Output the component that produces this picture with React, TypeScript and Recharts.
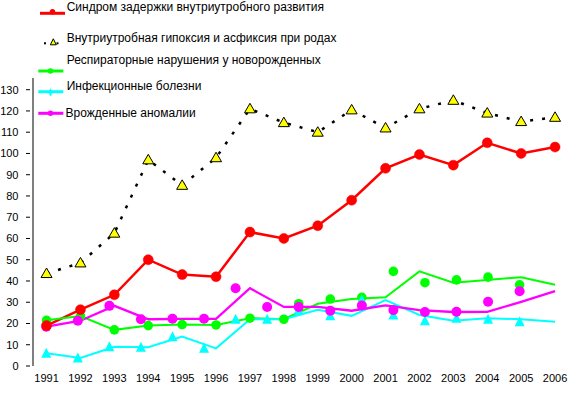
import React from 'react';
import { ComposedChart, Line, Scatter, XAxis, YAxis, Legend } from 'recharts';

const FONT = '"Liberation Sans", Arial, Helvetica, sans-serif';

// Categories
const years = [1991, 1992, 1993, 1994, 1995, 1996, 1997, 1998, 1999, 2000, 2001, 2002, 2003, 2004, 2005, 2006];
const yTicks = [0, 10, 20, 30, 40, 50, 60, 70, 80, 90, 100, 110, 120, 130];

// Series names (legend)
const seriesNames = [
  'Синдром задержки внутриутробного развития',
  'Внутриутробная гипоксия и асфиксия при родах',
  'Респираторные нарушения у новорожденных',
  'Инфекционные болезни',
  'Врожденные аномалии',
];

// Series values
const growthRetardation = [19, 26.5, 33.5, 50, 43, 42, 63, 60, 66, 78, 93, 99.5, 94.5, 105, 100, 103];
const hypoxia = [43.5, 48.5, 62.5, 97, 85, 98, 121, 114.5, 110, 120.5, 112, 121, 125, 119, 115, 117];
const respiratory = [21.5, 23.5, 17, 19, 19.5, 19.3, 22.5, 22, 29.3, 31.5, 32.3, 44.5, 39.2, 40.5, 41.8, 38.2];
const infections = [6, 3.8, 9, 8.8, 13.8, 8.3, 22, 22, 26.4, 23.6, 31, 24, 21.3, 22.5, 22, 20.8];
const anomalies = [18.5, 21.3, 28.3, 22, 22.2, 22.2, 36.6, 27.8, 27.8, 26, 28.5, 26.3, 25.4, 25.5, 30.2, 35.2];

// In the original the markers of some series are drawn on a compressed x spacing
const respiratoryAlignedYears = 8; // first 8 markers sit on their years

const rows = years.map((year, i) => ({
  year,
  growthRetardation: growthRetardation[i],
  hypoxia: hypoxia[i],
  respiratory: respiratory[i],
  infections: infections[i],
  anomalies: anomalies[i],
}));

const respiratoryEarly = years.slice(0, respiratoryAlignedYears).map((year, i) => ({ year, value: respiratory[i] }));
const respiratoryLate = years.slice(respiratoryAlignedYears).map((year, i) => ({ year, value: respiratory[i + respiratoryAlignedYears] }));
const infectionsMarkers = years.map((year, i) => ({ year, value: infections[i] }));
const anomaliesMarkers = years.map((year, i) => ({ year, value: anomalies[i] }));

const MAIN_DOMAIN: [number, number] = [1990.6, 2006.5];
const MARKER_DOMAIN: [number, number] = [1990.58, 2007.66];
const tickMarks = [MAIN_DOMAIN[0], ...years.map((y) => y + 0.5)];

const RED = '#ff0000';
const GREEN = '#00ff00';
const CYAN = '#00ffff';
const MAGENTA = '#ff00ff';
const YELLOW = '#ffff00';

const YTick = (props: any) => {
  const { x, y, payload } = props;
  return (
    <g>
      <line x1={x - 7} x2={x - 3} y1={y} y2={y} stroke="#000" strokeWidth={1} />
      <text x={x - 14.5} y={y} dy="0.35em" textAnchor="end" fontSize={11} fontFamily={FONT} fill="#000">
        {payload.value}
      </text>
    </g>
  );
};

const redDot = (props: any) => {
  const { cx, cy, index } = props;
  if (cx == null || cy == null) return <g key={`rd-${index}`} />;
  return <circle key={`rd-${index}`} cx={cx} cy={cy} r={5} fill={RED} stroke={RED} strokeWidth={0.5} />;
};

const yellowTriangle = (props: any) => {
  const { cx, cy, index } = props;
  if (cx == null || cy == null) return <g key={`yt-${index}`} />;
  return (
    <polygon
      key={`yt-${index}`}
      points={`${cx},${cy - 5.5} ${cx - 5.5},${cy + 4} ${cx + 5.5},${cy + 4}`}
      fill={YELLOW}
      stroke="#000"
      strokeWidth={1}
    />
  );
};

const cyanTriangle = (props: any) => {
  const { cx, cy } = props;
  return <polygon points={`${cx},${cy - 5.5} ${cx - 5},${cy + 4.5} ${cx + 5},${cy + 4.5}`} fill={CYAN} stroke="none" />;
};

const greenCircle = (props: any) => <circle cx={props.cx} cy={props.cy} r={4.8} fill={GREEN} />;
const magentaCircle = (props: any) => <circle cx={props.cx} cy={props.cy} r={5} fill={MAGENTA} />;

const legendTextY = [6.7, 38.3, 60, 86, 113.3];
const legendSymY = [13.3, 43.3, 71, 91.7, 113.3];

const LegendContent = () => (
  <svg width={340} height={125} style={{ display: 'block' }}>
    <line x1={40} x2={65} y1={legendSymY[0]} y2={legendSymY[0]} stroke={RED} strokeWidth={3} />
    <circle cx={52.5} cy={legendSymY[0] - 1.5} r={2.7} fill={RED} />
    <rect x={44} y={legendSymY[1] - 1} width={2} height={2} fill="#000" />
    <polygon
      points={`${53.3},${legendSymY[1] - 4.5} ${50.3},${legendSymY[1] + 1.5} ${56.3},${legendSymY[1] + 1.5}`}
      fill={YELLOW}
      stroke="#000"
      strokeWidth={1}
    />
    <rect x={56.5} y={legendSymY[1] - 1} width={2} height={2} fill="#000" />
    <line x1={38.3} x2={63.3} y1={legendSymY[2]} y2={legendSymY[2]} stroke={GREEN} strokeWidth={3} />
    <circle cx={50.5} cy={legendSymY[2]} r={2.7} fill={GREEN} />
    <line x1={38.3} x2={63.3} y1={legendSymY[3]} y2={legendSymY[3]} stroke={CYAN} strokeWidth={3} />
    <polygon
      points={`${50.5},${legendSymY[3] - 3.5} ${47.8},${legendSymY[3] + 1.5} ${53.2},${legendSymY[3] + 1.5}`}
      fill={CYAN}
    />
    <rect x={49.5} y={legendSymY[3]} width={2} height={4} fill={CYAN} />
    <line x1={38.3} x2={63.3} y1={legendSymY[4]} y2={legendSymY[4]} stroke={MAGENTA} strokeWidth={3} />
    <circle cx={50.5} cy={legendSymY[4]} r={2.7} fill={MAGENTA} />
    {seriesNames.map((name, i) => (
      <text
        key={name}
        x={i === 4 ? 65.5 : 66.7}
        y={legendTextY[i]}
        dominantBaseline="central"
        fontSize={12}
        fontFamily={FONT}
        fill="#000"
      >
        {name}
      </text>
    ))}
  </svg>
);

export default function App() {
  return (
    <div style={{ position: 'absolute', left: 0, top: 0, width: 578, height: 397, background: '#fff' }}>
      <ComposedChart width={578} height={397} data={rows} margin={{ top: 78, right: 6, left: 32, bottom: 0 }}>
        <XAxis
          xAxisId="ticks"
          type="number"
          dataKey="year"
          domain={MAIN_DOMAIN}
          ticks={tickMarks}
          interval={0}
          tickSize={4}
          height={4}
          tickFormatter={() => ''}
          axisLine={{ stroke: '#000' }}
          tickLine={{ stroke: '#000' }}
          allowDataOverflow
        />
        <XAxis
          xAxisId="main"
          type="number"
          dataKey="year"
          domain={MAIN_DOMAIN}
          ticks={years}
          interval={0}
          tickSize={0}
          tickMargin={8}
          height={27}
          axisLine={false}
          tickLine={false}
          tick={{ fontSize: 11, fill: '#000', fontFamily: FONT }}
          allowDataOverflow
        />
        <XAxis xAxisId="markers" hide type="number" dataKey="year" domain={MARKER_DOMAIN} allowDataOverflow />
        <YAxis
          type="number"
          domain={[0, 135.5]}
          ticks={yTicks}
          interval={0}
          width={1}
          tickSize={0}
          tickMargin={0}
          axisLine={{ stroke: '#000' }}
          tickLine={false}
          tick={<YTick />}
          allowDataOverflow
        />
        <Legend
          layout="vertical"
          align="center"
          verticalAlign="middle"
          wrapperStyle={{ position: 'absolute', left: 0, top: 0, width: 340, height: 125 }}
          content={() => <LegendContent />}
        />
        <Line
          xAxisId="main"
          dataKey="hypoxia"
          name={seriesNames[1]}
          stroke="#000"
          strokeWidth={2.5}
          strokeDasharray="3 9"
          dot={yellowTriangle}
          activeDot={false}
          isAnimationActive={false}
        />
        <Line
          xAxisId="main"
          dataKey="growthRetardation"
          name={seriesNames[0]}
          stroke={RED}
          strokeWidth={2.5}
          dot={redDot}
          activeDot={false}
          isAnimationActive={false}
        />
        <Line
          xAxisId="ticks"
          dataKey="respiratory"
          name={seriesNames[2]}
          stroke={GREEN}
          strokeWidth={2}
          dot={false}
          activeDot={false}
          isAnimationActive={false}
        />
        <Line
          xAxisId="ticks"
          dataKey="infections"
          name={seriesNames[3]}
          stroke={CYAN}
          strokeWidth={2}
          dot={false}
          activeDot={false}
          isAnimationActive={false}
        />
        <Line
          xAxisId="ticks"
          dataKey="anomalies"
          name={seriesNames[4]}
          stroke={MAGENTA}
          strokeWidth={2.3}
          dot={false}
          activeDot={false}
          isAnimationActive={false}
        />
        <Scatter xAxisId="main" data={respiratoryEarly} dataKey="value" fill={GREEN} shape={greenCircle} isAnimationActive={false} />
        <Scatter xAxisId="markers" data={respiratoryLate} dataKey="value" fill={GREEN} shape={greenCircle} isAnimationActive={false} />
        <Scatter xAxisId="markers" data={infectionsMarkers} dataKey="value" fill={CYAN} shape={cyanTriangle} isAnimationActive={false} />
        <Scatter xAxisId="markers" data={anomaliesMarkers} dataKey="value" fill={MAGENTA} shape={magentaCircle} isAnimationActive={false} />
      </ComposedChart>
    </div>
  );
}
